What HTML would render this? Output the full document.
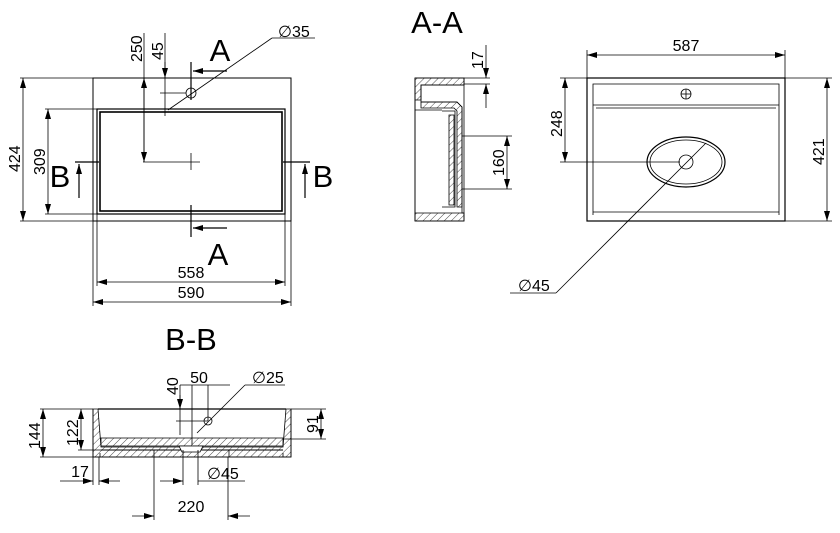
<!DOCTYPE html>
<html><head><meta charset="utf-8"><style>
html,body{margin:0;padding:0;background:#fff}
svg{display:block}
text{font-family:"Liberation Sans",sans-serif;fill:#000}
</style></head><body>
<svg width="840" height="533" viewBox="0 0 840 533" xmlns="http://www.w3.org/2000/svg">
<defs>
<pattern id="h" width="5" height="5" patternUnits="userSpaceOnUse" patternTransform="rotate(45)">
<line x1="0" y1="0" x2="0" y2="5" stroke="#000" stroke-width="0.7"/></pattern>
<marker id="a" markerWidth="10" markerHeight="6" refX="10" refY="3" orient="auto-start-reverse" markerUnits="userSpaceOnUse"><path d="M0,0 L10,3 L0,6 Z" fill="#000"/></marker>
</defs>
<g stroke="#000" fill="none" stroke-width="0.8">
<rect x="93" y="78" width="198" height="143" stroke-width="1"/>
<rect x="97" y="109" width="188" height="105" stroke-width="1.2"/>
<rect x="100" y="112" width="182" height="99" stroke-width="1.6"/>
<circle cx="191" cy="93" r="5"/>
<line x1="143" y1="162" x2="200" y2="162"/><line x1="191" y1="153" x2="191" y2="170"/>
<line x1="20" y1="78" x2="93" y2="78"/><line x1="20" y1="221" x2="93" y2="221"/>
<line x1="23" y1="78" x2="23" y2="221" marker-start="url(#a)" marker-end="url(#a)"/>
<line x1="45" y1="109" x2="97" y2="109"/><line x1="45" y1="214" x2="97" y2="214"/>
<line x1="48" y1="109" x2="48" y2="214" marker-start="url(#a)" marker-end="url(#a)"/>
<line x1="144" y1="33" x2="144" y2="162" />
<line x1="144" y1="78" x2="144" y2="162" marker-start="url(#a)" marker-end="url(#a)"/>
<line x1="165" y1="33" x2="165" y2="116"/>
<line x1="165" y1="62" x2="165" y2="78" marker-end="url(#a)"/>
<line x1="160" y1="93" x2="186" y2="93"/>
<line x1="168" y1="110" x2="272" y2="38"/><line x1="272" y1="38" x2="315" y2="38"/>
<line x1="191" y1="62" x2="191" y2="100" stroke-width="1.2"/>
<line x1="227" y1="71" x2="193" y2="71" marker-end="url(#a)" stroke-width="1.2"/>
<line x1="191" y1="205" x2="191" y2="237" stroke-width="1.2"/>
<line x1="227" y1="228" x2="193" y2="228" marker-end="url(#a)" stroke-width="1.2"/>
<line x1="75" y1="162" x2="99" y2="162" stroke-width="1.2"/>
<line x1="79" y1="198" x2="79" y2="164" marker-end="url(#a)" stroke-width="1.2"/>
<line x1="283" y1="162" x2="310" y2="162" stroke-width="1.2"/>
<line x1="305" y1="198" x2="305" y2="164" marker-end="url(#a)" stroke-width="1.2"/>
<line x1="93" y1="221" x2="93" y2="306"/><line x1="291" y1="221" x2="291" y2="306"/>
<line x1="97" y1="214" x2="97" y2="286"/><line x1="285" y1="214" x2="285" y2="286"/>
<line x1="97" y1="282" x2="285" y2="282" marker-start="url(#a)" marker-end="url(#a)"/>
<line x1="93" y1="302" x2="291" y2="302" marker-start="url(#a)" marker-end="url(#a)"/>
<path d="M415,78 H464 V85 H421 V102 H457 L462,107 V213 H464 V221 H415 Z M421,102" />
<path d="M415,78 H464 V85 H421 V100 H415 Z" fill="url(#h)"/>
<path d="M421,102 H457 L462,107 V207 H457 V111 L454,108 H421 Z" fill="url(#h)"/>
<path d="M442,111 H455 V207 H442" fill="none"/>
<path d="M449,115 H454 V205 H449 Z" fill="url(#h)"/>
<path d="M415,213 H464 V221 H415 Z" fill="url(#h)"/>
<line x1="415" y1="110" x2="442" y2="110"/>
<line x1="415" y1="78" x2="415" y2="221"/>
<line x1="464" y1="85" x2="464" y2="213"/>
<line x1="464" y1="78" x2="490" y2="78"/><line x1="464" y1="84" x2="490" y2="84"/>
<line x1="486" y1="45" x2="486" y2="78" marker-end="url(#a)"/>
<line x1="486" y1="108" x2="486" y2="84" marker-end="url(#a)"/>
<line x1="462" y1="136" x2="512" y2="136"/><line x1="462" y1="189" x2="512" y2="189"/>
<line x1="507" y1="136" x2="507" y2="189" marker-start="url(#a)" marker-end="url(#a)"/>
<rect x="587" y="78" width="198" height="143" stroke-width="1.2"/>
<path d="M593,215 V84 H779 V215"/>
<line x1="593" y1="105" x2="779" y2="105"/>
<line x1="596" y1="108" x2="776" y2="108"/>
<line x1="593" y1="212" x2="779" y2="212"/>
<circle cx="686" cy="94" r="5"/><line x1="681" y1="94" x2="691" y2="94"/><line x1="686" y1="89" x2="686" y2="99"/>
<ellipse cx="686" cy="162" rx="39" ry="25" stroke-width="1.2"/>
<ellipse cx="686" cy="162" rx="36" ry="22"/>
<circle cx="686" cy="162" r="7"/>
<line x1="587" y1="50" x2="587" y2="78"/><line x1="785" y1="50" x2="785" y2="78"/>
<line x1="587" y1="55" x2="785" y2="55" marker-start="url(#a)" marker-end="url(#a)"/>
<line x1="560" y1="78" x2="587" y2="78"/><line x1="560" y1="162" x2="680" y2="162"/>
<line x1="565" y1="78" x2="565" y2="162" marker-start="url(#a)" marker-end="url(#a)"/>
<line x1="785" y1="78" x2="832" y2="78"/><line x1="785" y1="221" x2="832" y2="221"/>
<line x1="827" y1="78" x2="827" y2="221" marker-start="url(#a)" marker-end="url(#a)"/>
<line x1="706" y1="143" x2="556" y2="293"/><line x1="556" y1="293" x2="510" y2="293"/>
<path d="M93,409 V457 H291 V409"/>
<path d="M93,409 H98 L101,447 H283 L286,409 H291 V457 H93 Z" fill="url(#h)"/>
<path d="M101,438 H283 V446 H101 Z" fill="url(#h)"/>
<line x1="98" y1="409" x2="286" y2="409" stroke-width="1.2"/>
<line x1="101" y1="450" x2="283" y2="450" stroke-width="1"/>
<path d="M179,446 H203 L200,452 H182 Z" fill="#fff"/>
<path d="M100,453 V457 M154,450 V457 M229,450 V457 M283,453 V457"/>
<circle cx="208" cy="421" r="4"/>
<line x1="40" y1="409" x2="93" y2="409"/><line x1="40" y1="457" x2="93" y2="457"/>
<line x1="43" y1="409" x2="43" y2="457" marker-start="url(#a)" marker-end="url(#a)"/>
<line x1="78" y1="450" x2="101" y2="450"/>
<line x1="81" y1="409" x2="81" y2="450" marker-start="url(#a)" marker-end="url(#a)"/>
<line x1="291" y1="409" x2="326" y2="409"/><line x1="283" y1="439" x2="326" y2="439"/>
<line x1="321" y1="409" x2="321" y2="439" marker-start="url(#a)" marker-end="url(#a)"/>
<line x1="93" y1="457" x2="93" y2="485"/><line x1="99" y1="457" x2="99" y2="485"/>
<line x1="60" y1="481" x2="93" y2="481" marker-end="url(#a)"/>
<line x1="120" y1="481" x2="99" y2="481" marker-end="url(#a)"/>
<line x1="154" y1="457" x2="154" y2="520"/><line x1="228" y1="457" x2="228" y2="520"/>
<line x1="132" y1="516" x2="154" y2="516" marker-end="url(#a)"/>
<line x1="250" y1="516" x2="228" y2="516" marker-end="url(#a)"/>
<line x1="183" y1="450" x2="183" y2="485"/><line x1="198" y1="450" x2="198" y2="485"/>
<line x1="160" y1="481" x2="183" y2="481" marker-end="url(#a)"/>
<line x1="198" y1="481" x2="245" y2="481"/>
<line x1="180" y1="385" x2="180" y2="435"/>
<line x1="180" y1="395" x2="180" y2="409" marker-end="url(#a)"/>
<line x1="192" y1="385" x2="192" y2="445"/><line x1="208" y1="385" x2="208" y2="421"/>
<line x1="180" y1="385" x2="230" y2="385"/>
<line x1="176" y1="421" x2="208" y2="421"/>
<line x1="197" y1="433" x2="245" y2="385"/><line x1="245" y1="385" x2="285" y2="385"/>
</g>
<g font-size="16">
<text x="278" y="37">∅35</text>
<text transform="translate(142,62) rotate(-90)">250</text>
<text transform="translate(163,60) rotate(-90)">45</text>
<text transform="translate(20,172) rotate(-90)">424</text>
<text transform="translate(45,175) rotate(-90)">309</text>
<text x="191" y="278" text-anchor="middle">558</text>
<text x="191" y="298" text-anchor="middle">590</text>
<text transform="translate(483,69) rotate(-90)">17</text>
<text transform="translate(504,176) rotate(-90)">160</text>
<text x="686" y="51" text-anchor="middle">587</text>
<text transform="translate(562,137) rotate(-90)">248</text>
<text transform="translate(824,165) rotate(-90)">421</text>
<text x="518" y="291">∅45</text>
<text transform="translate(40,449) rotate(-90)">144</text>
<text transform="translate(78,446) rotate(-90)">122</text>
<text transform="translate(318,433) rotate(-90)">91</text>
<text x="80" y="477" text-anchor="middle">17</text>
<text x="191" y="512" text-anchor="middle">220</text>
<text x="207" y="479">∅45</text>
<text transform="translate(178,395) rotate(-90)">40</text>
<text x="199" y="383" text-anchor="middle">50</text>
<text x="252" y="383">∅25</text>
</g>
<g font-size="31">
<text x="220" y="61" text-anchor="middle">A</text>
<text x="218" y="265" text-anchor="middle">A</text>
<text x="60" y="187" text-anchor="middle">B</text>
<text x="323" y="187" text-anchor="middle">B</text>
<text x="437" y="33" text-anchor="middle">A-A</text>
<text x="191" y="350" text-anchor="middle">B-B</text>
</g>
</svg>
</body></html>
